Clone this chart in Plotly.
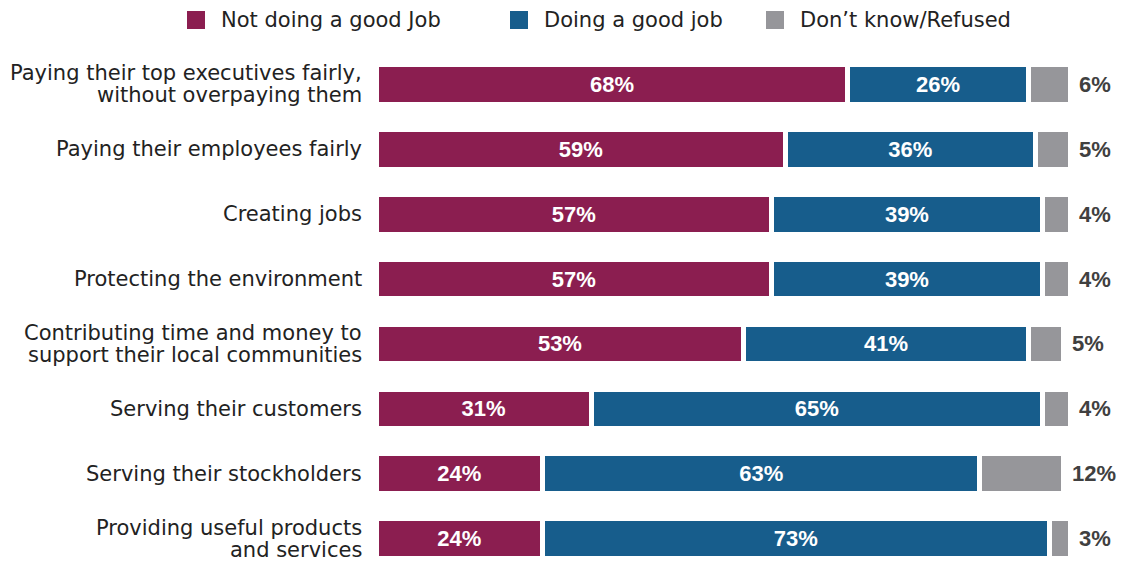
import plotly.graph_objects as go

categories = [
    "Paying their top executives fairly,<br>without overpaying them",
    "Paying their employees fairly",
    "Creating jobs",
    "Protecting the environment",
    "Contributing time and money to<br>support their local communities",
    "Serving their customers",
    "Serving their stockholders",
    "Providing useful products<br>and services",
]
not_good = [68, 59, 57, 57, 53, 31, 24, 24]
good = [26, 36, 39, 39, 41, 65, 63, 73]
dont_know = [6, 5, 4, 4, 5, 4, 12, 3]

series_names = ["Not doing a good Job", "Doing a good job", "Don\u2019t know/Refused"]
colors = ["#8B1E50", "#175D8C", "#96969A"]

FONT = "Liberation Sans, Arial, sans-serif"
LABEL_FONT = "DejaVu Sans, sans-serif"
LINE_GAP = 22  # px between lines of a wrapped category label

fig = go.Figure()
for name, vals, col, show_text in zip(series_names, [not_good, good, dont_know], colors,
                                      [True, True, False]):
    fig.add_trace(go.Bar(
        y=categories, x=vals, name=name, orientation="h",
        marker=dict(color=col, line=dict(color="white", width=5)),
        width=0.61,
        text=[f"{v}%" for v in vals] if show_text else None,
        textposition="inside" if show_text else "none",
        insidetextanchor="middle",
        textfont=dict(family=FONT, size=22, color="white", weight="bold"),
        showlegend=False,
        hoverinfo="skip",
    ))

# value labels to the right of each stacked bar
for cat, a, b, c in zip(categories, not_good, good, dont_know):
    fig.add_annotation(
        x=a + b + c, y=cat, xref="x", yref="y", text=f"{c}%",
        showarrow=False, xanchor="left", xshift=7,
        font=dict(family=FONT, size=22, color="#404040", weight="bold"),
    )

# category labels, right-aligned against the bars, wrapped lines set close together
for cat in categories:
    lines = cat.split("<br>")
    n = len(lines)
    for i, line in enumerate(lines):
        fig.add_annotation(
            x=0, y=cat, xref="paper", yref="y", text=line,
            showarrow=False, xanchor="right", yanchor="middle",
            xshift=-12, yshift=((n - 1) / 2 - i) * LINE_GAP,
            font=dict(family=LABEL_FONT, size=21, color="#222222"),
        )

# legend drawn as swatches and labels above the bars
plot_left, plot_width, plot_top, plot_height = 376, 694, 52, 510
legend_x = [187, 510, 766]
for px, name, col in zip(legend_x, series_names, colors):
    fig.add_shape(type="rect", xref="paper", yref="paper",
                  x0=(px - plot_left) / plot_width, x1=(px + 18 - plot_left) / plot_width,
                  y0=1.0 + (plot_top - 29) / plot_height, y1=1.0 + (plot_top - 11) / plot_height,
                  fillcolor=col, line=dict(width=0))
    fig.add_annotation(
        x=(px + 32 - plot_left) / plot_width, y=1.0 + (plot_top - 20) / plot_height,
        xref="paper", yref="paper", text=name, showarrow=False,
        xanchor="left", yanchor="middle",
        font=dict(family=LABEL_FONT, size=21, color="#222222"),
    )

fig.update_layout(
    barmode="stack",
    width=1121, height=563,
    margin=dict(l=plot_left, r=1121 - plot_left - plot_width, t=plot_top, b=1),
    paper_bgcolor="white", plot_bgcolor="white",
    xaxis=dict(range=[0, 100], visible=False, fixedrange=True),
    yaxis=dict(
        range=[7.36, -0.5], showgrid=False, zeroline=False, showline=False,
        showticklabels=False, fixedrange=True,
    ),
)

fig.write_html("out.html")
